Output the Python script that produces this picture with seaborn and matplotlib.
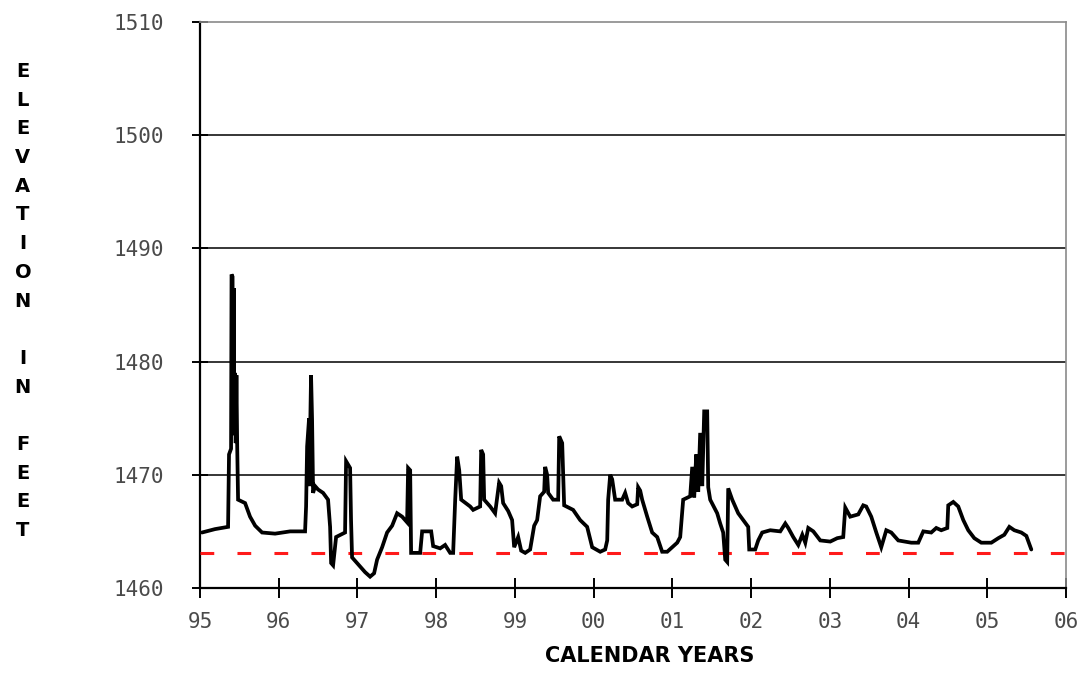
import matplotlib
matplotlib.use("Agg")
import matplotlib.pyplot as plt
import seaborn as sns
import pandas as pd

# Reservoir elevation record, decimal calendar years vs. feet
years = [
    1995.025, 1995.19, 1995.356, 1995.368, 1995.394, 1995.400, 1995.413, 1995.420,
    1995.428, 1995.436, 1995.445, 1995.453, 1995.462, 1995.472, 1995.483,
    1995.572, 1995.635, 1995.70, 1995.788, 1995.953,
    1996.144, 1996.334, 1996.347, 1996.360, 1996.385, 1996.392, 1996.400, 1996.410,
    1996.423, 1996.436,
    1996.461, 1996.499, 1996.563, 1996.626, 1996.652, 1996.665, 1996.690, 1996.728,
    1996.842, 1996.855, 1996.906, 1996.918, 1996.931, 1997.033, 1997.096, 1997.160,
    1997.211, 1997.249, 1997.313, 1997.376, 1997.440, 1997.503, 1997.567, 1997.630,
    1997.643, 1997.669, 1997.681, 1997.796, 1997.821, 1997.936, 1997.961, 1998.050,
    1998.113, 1998.177, 1998.215, 1998.241, 1998.266, 1998.292, 1998.317, 1998.431,
    1998.469, 1998.558, 1998.571, 1998.596, 1998.609, 1998.685, 1998.748, 1998.799,
    1998.825, 1998.850, 1998.914, 1998.964, 1998.990, 1999.041, 1999.079, 1999.130,
    1999.193, 1999.244, 1999.282, 1999.320, 1999.371, 1999.384, 1999.409, 1999.422,
    1999.485, 1999.549, 1999.562, 1999.600, 1999.625, 1999.739, 1999.828, 1999.917,
    1999.981, 2000.083, 2000.146, 2000.172, 2000.184, 2000.210, 2000.235, 2000.273,
    2000.362, 2000.400, 2000.438, 2000.489, 2000.553, 2000.565, 2000.591, 2000.616,
    2000.680, 2000.743, 2000.807, 2000.870, 2000.934, 2001.061, 2001.099, 2001.137,
    2001.226, 2001.252, 2001.277, 2001.303, 2001.328, 2001.353, 2001.379, 2001.404,
    2001.442, 2001.455, 2001.480, 2001.569, 2001.607, 2001.645, 2001.671, 2001.696,
    2001.709, 2001.760, 2001.836, 2001.900, 2001.963, 2001.976, 2002.052, 2002.090,
    2002.141, 2002.243, 2002.370, 2002.434, 2002.472, 2002.535, 2002.599, 2002.650,
    2002.688, 2002.726, 2002.790, 2002.878, 2003.005, 2003.094, 2003.170, 2003.196,
    2003.259, 2003.361, 2003.424, 2003.462, 2003.526, 2003.590, 2003.653, 2003.717,
    2003.780, 2003.869, 2004.034, 2004.123, 2004.187, 2004.288, 2004.352, 2004.415,
    2004.492, 2004.504, 2004.568, 2004.631, 2004.695, 2004.758, 2004.835, 2004.924,
    2005.051, 2005.140, 2005.216, 2005.280, 2005.343, 2005.432, 2005.496, 2005.559,
]
elevation = [
    1464.9, 1465.2, 1465.4, 1471.8, 1472.3, 1487.7, 1487.5, 1474.0,
    1486.5, 1473.5, 1479.0, 1472.8, 1478.8, 1472.5, 1467.8,
    1467.5, 1466.3, 1465.5, 1464.9, 1464.8,
    1465.0, 1465.0, 1467.2, 1472.5, 1475.0, 1469.0, 1474.5, 1478.8,
    1474.9, 1468.4,
    1469.0, 1468.7, 1468.4, 1467.8, 1465.4, 1462.2, 1462.0, 1464.5,
    1464.9, 1471.2, 1470.6, 1466.0, 1462.7, 1461.9, 1461.4, 1461.0,
    1461.3, 1462.5, 1463.6, 1464.9, 1465.5, 1466.6, 1466.3, 1465.8,
    1470.6, 1470.4, 1463.1, 1463.1, 1465.0, 1465.0, 1463.7, 1463.5,
    1463.8, 1463.1, 1463.1, 1467.8, 1471.6, 1470.4, 1467.8, 1467.2,
    1466.9, 1467.2, 1472.2, 1471.8, 1467.8, 1467.2, 1466.6, 1469.3,
    1469.0, 1467.5, 1466.8, 1466.0, 1463.6, 1464.5, 1463.3, 1463.1,
    1463.4, 1465.5, 1466.0, 1468.1, 1468.5, 1470.7, 1470.0, 1468.4,
    1467.8, 1467.8, 1473.4, 1472.8, 1467.3, 1466.9, 1466.0, 1465.4,
    1463.6, 1463.2, 1463.4, 1464.2, 1467.8, 1470.0, 1469.6, 1467.8,
    1467.8, 1468.4, 1467.5, 1467.2, 1467.4, 1468.9, 1468.6, 1467.8,
    1466.3, 1464.9, 1464.5, 1463.2, 1463.2, 1464.0, 1464.5, 1467.8,
    1468.1, 1470.7, 1468.0, 1471.8, 1468.5, 1473.7, 1469.0, 1475.6,
    1475.6, 1468.9, 1467.8, 1466.6, 1465.7, 1464.9, 1462.5, 1462.3,
    1468.8, 1467.8, 1466.6, 1466.0, 1465.4, 1463.4, 1463.4, 1464.2,
    1464.9, 1465.1, 1465.0, 1465.7, 1465.3, 1464.5, 1463.8, 1464.7,
    1464.0, 1465.3, 1465.0, 1464.2, 1464.1, 1464.4, 1464.5, 1467.1,
    1466.3, 1466.5, 1467.3, 1467.2, 1466.3, 1464.9, 1463.6, 1465.1,
    1464.9, 1464.2, 1464.0, 1464.0, 1465.0, 1464.9, 1465.3, 1465.1,
    1465.3, 1467.3, 1467.6, 1467.2, 1466.0, 1465.1, 1464.4, 1464.0,
    1464.0, 1464.4, 1464.7, 1465.4, 1465.1, 1464.9, 1464.6, 1463.4,
]

# Reference level shown as the red dashed line
level_years = [1995.0, 2006.0]
level_elev = [1463.1, 1463.1]

tick_years = list(range(1995, 2007))
tick_labels = ["95", "96", "97", "98", "99", "00", "01", "02", "03", "04", "05", "06"]
y_ticks = [1460, 1470, 1480, 1490, 1500, 1510]

sns.set_theme(style="white")
plt.rcParams["font.family"] = ["DejaVu Sans"]

fig = plt.figure(figsize=(10.89, 6.81), dpi=100)
ax = fig.add_axes([0.1837, 0.1366, 0.7952, 0.8311])

series = pd.DataFrame({"year": years, "elev": elevation})
level = pd.DataFrame({"year": level_years, "elev": level_elev})

sns.lineplot(data=level, x="year", y="elev", ax=ax, color="#ff1a1a",
             linewidth=2.2, dashes=False, estimator=None, zorder=3)
ax.lines[-1].set_dashes((4.5, 7.6))
sns.lineplot(data=series, x="year", y="elev", ax=ax, color="black",
             linewidth=2.7, estimator=None, sort=False, zorder=4)
ax.lines[-1].set_solid_joinstyle("miter")

ax.set_xlim(1995, 2006)
ax.set_ylim(1460, 1510)
ax.set_xticks(tick_years)
ax.set_xticklabels(tick_labels)
ax.set_yticks(y_ticks)

# horizontal grid lines inside the plot
for yv in y_ticks[1:-1]:
    ax.axhline(yv, color="black", linewidth=1.1, zorder=1)

for side in ("left", "bottom"):
    ax.spines[side].set_color("black")
    ax.spines[side].set_linewidth(1.6)
for side in ("top", "right"):
    ax.spines[side].set_color("#8a8a8a")
    ax.spines[side].set_linewidth(1.2)

ax.tick_params(axis="both", which="major", direction="inout", color="black",
               width=1.4, bottom=True, left=True)
ax.tick_params(axis="x", length=14, pad=10)
ax.tick_params(axis="y", length=12, pad=20)
for lab in ax.get_xticklabels() + ax.get_yticklabels():
    lab.set_fontfamily("DejaVu Sans Mono")
    lab.set_fontsize(15)
    lab.set_color("#4a4a4a")

ax.set_xlabel("")
ax.set_ylabel("")
fig.text(0.597, 0.022, "CALENDAR YEARS", ha="center", va="bottom",
         fontsize=15, fontweight="bold", color="black")
fig.text(0.021, 0.558, "E\nL\nE\nV\nA\nT\nI\nO\nN\n\nI\nN\n\nF\nE\nE\nT",
         ha="center", va="center", fontsize=14, fontweight="bold",
         color="black", linespacing=1.645)

fig.savefig("out.png", dpi=100, facecolor="white")
